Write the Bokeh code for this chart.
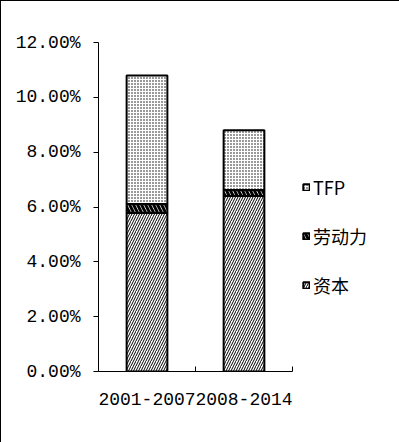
from bokeh.plotting import figure
from bokeh.models import ColumnDataSource, FixedTicker, PrintfTickFormatter, Range1d, Legend, LegendItem
from bokeh.embed import file_html
from bokeh.resources import INLINE

periods = ["2001-2007", "2008-2014"]
capital = [5.78, 6.40]
labor = [0.33, 0.22]
tfp = [4.69, 2.18]
series_names = ["资本", "劳动力", "TFP"]
y_ticks = [0, 2, 4, 6, 8, 10, 12]

xs = [i + 0.5 for i in range(len(periods))]
src = ColumnDataSource(dict(x=xs, capital=capital, labor=labor, tfp=tfp))

p = figure(frame_width=194, frame_height=329, output_backend="svg", toolbar_location=None,
           x_range=Range1d(0, len(periods)), y_range=Range1d(0, 12),
           min_border_left=97, min_border_top=41, min_border_right=107, min_border_bottom=71)
p.styles = {"border": "1px solid black", "box-sizing": "border-box"}
p.xgrid.visible = False
p.ygrid.visible = False
p.outline_line_color = None
p.background_fill_color = "white"

rs = p.vbar_stack(["capital", "labor", "tfp"], x="x", width=0.42, source=src,
                  fill_color="white", line_color="black", line_width=2,
                  hatch_color="black",
                  hatch_pattern=["right_diagonal_line", "left_diagonal_line", "dot"],
                  hatch_scale=[5, 8, 3], hatch_weight=[1, 3, 1])

font_num = "Liberation Mono"
yax = p.yaxis[0]
yax.ticker = FixedTicker(ticks=y_ticks)
yax.formatter = PrintfTickFormatter(format="%.2f%%")
yax.major_tick_in = 0
yax.major_tick_out = 5
yax.minor_tick_line_color = None
yax.axis_line_width = 1
yax.major_label_standoff = 13
yax.major_label_text_font = font_num
yax.major_label_text_font_size = "18px"
yax.major_label_text_color = "black"

xax = p.xaxis[0]
xax.ticker = FixedTicker(ticks=xs, minor_ticks=list(range(len(periods) + 1)))
xax.major_label_overrides = {x: lab for x, lab in zip(xs, periods)}
xax.major_tick_in = 0
xax.major_tick_out = 0
xax.minor_tick_in = 5
xax.minor_tick_out = 0
xax.major_label_standoff = 21
xax.major_label_text_font = font_num
xax.major_label_text_font_size = "18px"
xax.major_label_text_color = "black"

legend = Legend(items=[LegendItem(label=series_names[i], renderers=[rs[i]]) for i in [2, 1, 0]],
                location=(10, 73), orientation="vertical",
                glyph_width=8, glyph_height=8, spacing=23,
                label_text_font="Noto Sans CJK SC", label_text_font_size="18px",
                label_text_color="black",
                label_standoff=3, border_line_color=None, background_fill_alpha=0,
                padding=0, margin=0)
p.add_layout(legend, "right")

open("out.html", "w").write(file_html(p, INLINE))
